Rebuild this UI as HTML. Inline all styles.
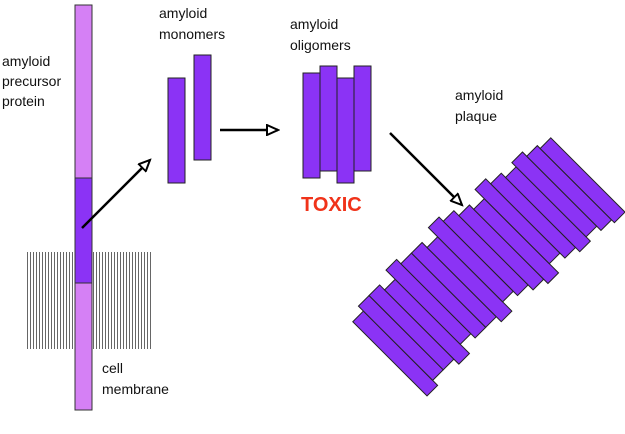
<!DOCTYPE html>
<html><head><style>
body{margin:0;background:#fff;}
svg{display:block;font-family:"Liberation Sans",sans-serif;}
</style></head><body>
<svg width="625" height="434" viewBox="0 0 625 434" xmlns="http://www.w3.org/2000/svg">
<defs>
<pattern id="mem" width="3" height="10" patternUnits="userSpaceOnUse">
<rect x="0" y="0" width="1" height="10" fill="#666"/>
</pattern>
<marker id="ah" markerWidth="14" markerHeight="12" refX="12" refY="6" orient="auto" markerUnits="userSpaceOnUse">
<path d="M1,1 L12,6 L1,11 Z" fill="#fff" stroke="#000" stroke-width="2"/>
</marker>
</defs>
<rect x="27" y="252" width="124" height="97" fill="url(#mem)"/>
<rect x="75" y="5" width="17" height="173" fill="#d580f5" stroke="#333" stroke-width="1"/>
<rect x="75" y="178" width="17" height="105" fill="#8b33f5" stroke="#333" stroke-width="1"/>
<rect x="75" y="283" width="17" height="127" fill="#d580f5" stroke="#333" stroke-width="1"/>
<g font-size="14" fill="#111">
<text x="2" y="66">amyloid</text><text x="2" y="86">precursor</text><text x="2" y="106">protein</text>
<text x="159" y="18">amyloid</text><text x="159" y="39">monomers</text>
<text x="290" y="29">amyloid</text><text x="290" y="50">oligomers</text>
<text x="455" y="100">amyloid</text><text x="455" y="121">plaque</text>
<text x="102" y="373">cell</text><text x="102" y="394">membrane</text>
</g>
<text x="301" y="211" font-size="20" font-weight="bold" fill="#f0331a">TOXIC</text>
<g fill="#8b33f5" stroke="#222" stroke-width="1">
<rect x="168" y="78" width="17" height="105"/>
<rect x="194" y="55" width="17" height="105"/>
<rect x="303" y="73" width="17" height="105"/>
<rect x="320" y="66" width="17" height="105"/>
<rect x="337" y="78" width="17" height="105"/>
<rect x="354" y="66" width="17" height="105"/>
</g>
<g stroke="#000" stroke-width="2.5" fill="none" marker-end="url(#ah)">
<line x1="82" y1="228" x2="150" y2="160"/>
<line x1="220" y1="130" x2="278" y2="130"/>
<line x1="390" y1="133" x2="462" y2="205"/>
</g>
<g transform="translate(485,263) rotate(45)" fill="#8b33f5" stroke="#222" stroke-width="1">
<rect x="-52" y="120" width="105" height="15"/>
<rect x="-59" y="105" width="105" height="15"/>
<rect x="-59" y="90" width="105" height="15"/>
<rect x="-52" y="75" width="105" height="15"/>
<rect x="-65" y="60" width="105" height="15"/>
<rect x="-59" y="45" width="105" height="15"/>
<rect x="-59" y="30" width="105" height="15"/>
<rect x="-52" y="15" width="105" height="15"/>
<rect x="-65" y="0" width="105" height="15"/>
<rect x="-59" y="-15" width="105" height="15"/>
<rect x="-52" y="-30" width="105" height="15"/>
<rect x="-46" y="-45" width="105" height="15"/>
<rect x="-59" y="-60" width="105" height="15"/>
<rect x="-52" y="-75" width="105" height="15"/>
<rect x="-46" y="-90" width="105" height="15"/>
<rect x="-52" y="-105" width="105" height="15"/>
<rect x="-46" y="-120" width="105" height="15"/>
<rect x="-42" y="-135" width="105" height="15"/>
</g>
</svg>
</body></html>
